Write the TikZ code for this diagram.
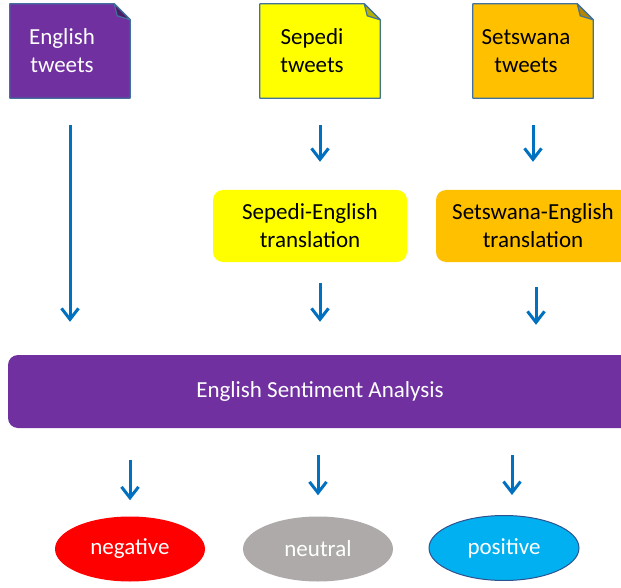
\documentclass[tikz,border=0pt]{standalone}
\usepackage{fontspec}
\setmainfont{Carlito}
\usetikzlibrary{arrows.meta,shapes.geometric}
\definecolor{vpurple}{HTML}{7030A0}
\definecolor{vyellow}{HTML}{FFFF00}
\definecolor{vorange}{HTML}{FFC000}
\definecolor{arrblue}{HTML}{0070C0}
\definecolor{docline}{HTML}{41719C}
\definecolor{vred}{HTML}{FF0000}
\definecolor{vgray}{HTML}{AEAAAA}
\definecolor{vcyan}{HTML}{00B0F0}
\definecolor{posline}{HTML}{2F528F}

\begin{document}
\begin{tikzpicture}[x=1pt, y=-1pt,
  docbox/.style={minimum width=120pt, minimum height=94pt, inner sep=0pt},
  docedge/.style={draw=docline, line width=1.2pt, line join=round},
  txt/.style={font=\fontsize{23}{28}\selectfont, align=center},
  trans/.style={txt, rounded corners=10pt, minimum width=194pt, minimum height=72pt},
  result/.style={txt, ellipse, minimum width=150pt, minimum height=65pt, text=white},
  arr/.style={draw=arrblue, line width=3pt, -{Straight Barb[length=11pt, width=17pt, line width=3pt]}}]
\useasboundingbox (0,0) rectangle (621,588);

% tweet documents
\node[docbox] (eng) at (70,51) {};
\draw[docedge, fill=vpurple] (eng.south west) -- (eng.north west) -- ([xshift=-16pt]eng.north east) -- ([yshift=-16pt]eng.north east) -- (eng.south east) -- cycle;
\draw[docedge, fill=vpurple!65!black] ([xshift=-16pt]eng.north east) -- ([yshift=-16pt]eng.north east) -- ([xshift=-13pt, yshift=-12pt]eng.north east) -- cycle;
\node[txt, text=white] (engtext) at ([xshift=-8pt]eng.center) {English\\tweets};

\node[docbox] (sep) at (320,51) {};
\draw[docedge, fill=vyellow] (sep.south west) -- (sep.north west) -- ([xshift=-16pt]sep.north east) -- ([yshift=-16pt]sep.north east) -- (sep.south east) -- cycle;
\draw[docedge, fill=vyellow!70!black] ([xshift=-16pt]sep.north east) -- ([yshift=-16pt]sep.north east) -- ([xshift=-13pt, yshift=-12pt]sep.north east) -- cycle;
\node[txt] (septext) at ([xshift=-8pt]sep.center) {Sepedi\\tweets};

\node[docbox] (set) at (533,51) {};
\draw[docedge, fill=vorange] (set.south west) -- (set.north west) -- ([xshift=-16pt]set.north east) -- ([yshift=-16pt]set.north east) -- (set.south east) -- cycle;
\draw[docedge, fill=vorange!70!black] ([xshift=-16pt]set.north east) -- ([yshift=-16pt]set.north east) -- ([xshift=-13pt, yshift=-12pt]set.north east) -- cycle;
\node[txt] (settext) at ([xshift=-7pt]set.center) {Setswana\\tweets};

% translation
\node[trans, fill=vyellow] (septr) at (310,226) {Sepedi-English\\translation};
\node[trans, fill=vorange] (settr) at (533,226) {Setswana-English\\translation};

% analysis
\node[txt, fill=vpurple, text=white, rounded corners=10pt, minimum width=624pt, minimum height=73pt] (esa) at (320,391.5) {English Sentiment Analysis};

% results
\node[result, fill=vred] (neg) at (130,549) {negative};
\node[result, fill=vgray] (neu) at (318,549) {neutral};
\node[result, fill=vcyan, draw=posline, line width=1pt] (pos) at (504,548) {positive};
\coordinate (posin) at ([xshift=8pt]pos.north);
\coordinate (setin) at ([xshift=3pt]settr.south);

% arrows
\draw[arr, shorten <=27pt, shorten >=33pt] (eng.south) -- (eng.south |- esa.north);
\draw[arr, shorten <=27pt, shorten >=28pt] (sep.south) -- (sep.south |- septr.north);
\draw[arr, shorten <=27pt, shorten >=28pt] (set.south) -- (set.south |- settr.north);
\draw[arr, shorten <=21pt, shorten >=33pt] (septr.south -| sep.south) -- (esa.north -| sep.south);
\draw[arr, shorten <=25pt, shorten >=30pt] (setin) -- (setin |- esa.north);
\draw[arr, shorten <=32pt, shorten >=16pt] (esa.south -| neg.north) -- (neg.north);
\draw[arr, shorten <=27pt, shorten >=21pt] (esa.south -| neu.north) -- (neu.north);
\draw[arr, shorten <=27pt, shorten >=20pt] (esa.south -| posin) -- (posin);
\end{tikzpicture}
\end{document}
